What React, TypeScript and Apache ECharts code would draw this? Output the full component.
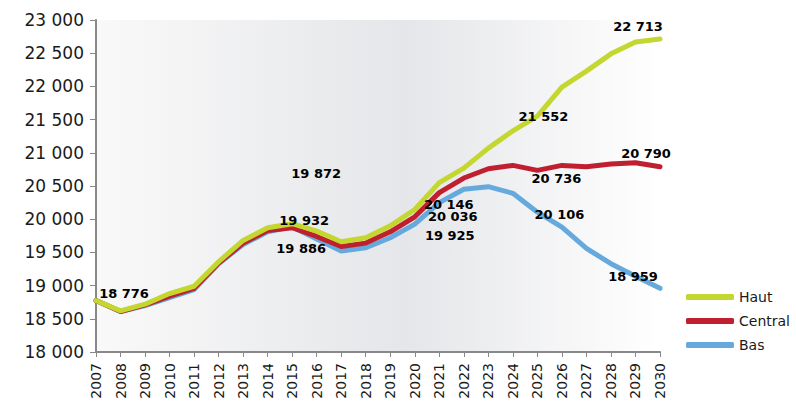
import React, { useEffect, useRef } from "react";
import * as echarts from "echarts";

const years = ["2007","2008","2009","2010","2011","2012","2013","2014","2015","2016","2017","2018","2019","2020","2021","2022","2023","2024","2025","2026","2027","2028","2029","2030"];
const haut = [18776,18620,18720,18880,18990,19360,19680,19870,19932,19820,19660,19720,19900,20146,20550,20770,21070,21330,21552,21990,22230,22490,22670,22713];
const central = [18776,18610,18710,18840,18960,19340,19640,19830,19872,19740,19590,19640,19810,20036,20400,20620,20760,20810,20736,20810,20790,20830,20850,20790];
const bas = [18776,18610,18700,18820,18940,19330,19620,19810,19886,19700,19520,19570,19720,19925,20250,20450,20490,20390,20106,19880,19560,19330,19140,18959];

// labels: year index, text offset x, text offset y
const labelsHaut: [number, number, number][] = [[0, 28, -7],[8, 12, -3],[13, 34, -5],[18, 6, 0],[23, -22, -13]];
const labelsCentral: [number, number, number][] = [[8, 24, -54],[13, 38, 0],[18, 19, 8],[23, -14, -13]];
const labelsBas: [number, number, number][] = [[8, 9, 22],[13, 35, 11],[18, 22, 2],[23, -27, -12]];

const fmt = (v: number) => {
  const s = Math.round(v).toString();
  return s.replace(/\B(?=(\d{3})+(?!\d))/g, " ");
};

function buildData(vals: number[], labels: [number, number, number][]) {
  return vals.map((v, i) => {
    const l = labels.find((x) => x[0] === i);
    if (!l) return v;
    return {
      value: v,
      label: {
        show: true,
        position: "inside",
        offset: [l[1], l[2]],
        formatter: fmt(v),
        color: "#000",
        fontWeight: "bold",
        fontSize: 13,
        fontFamily: "DejaVu Sans",
        align: "center",
        verticalAlign: "middle",
      },
    };
  });
}

export default function App() {
  const ref = useRef<HTMLDivElement>(null);
  useEffect(() => {
    if (!ref.current) return;
    const chart = echarts.init(ref.current, null, { renderer: "svg" });
    const font = "DejaVu Sans";
    const mkSeries = (name: string, vals: number[], color: string, labels: [number, number, number][], z: number) => ({
      name,
      type: "line",
      data: buildData(vals, labels),
      symbol: "circle",
      symbolSize: 1,
      showSymbol: true,
      itemStyle: { color },
      lineStyle: { color, width: 5, cap: "round", join: "round" },
      z,
      emphasis: { disabled: true },
    });
    chart.setOption({
      animation: false,
      grid: {
        left: 96,
        right: 136,
        top: 20,
        bottom: 50,
        outerBoundsMode: "none",
        containLabel: false,
        show: true,
        borderWidth: 0,
        backgroundColor: new echarts.graphic.LinearGradient(0, 0, 1, 0, [
          { offset: 0, color: "#f9f9f9" },
          { offset: 0.55, color: "#e5e6e9" },
          { offset: 1, color: "#ffffff" },
        ]),
      },
      legend: {
        orient: "vertical",
        left: 681,
        top: 285,
        itemWidth: 48,
        itemHeight: 6,
        itemGap: 10,
        icon: "roundRect",
        data: ["Haut", "Central", "Bas"],
        textStyle: { fontSize: 14, fontFamily: font, color: "#1a1a1a" },
      },
      xAxis: {
        type: "category",
        data: years,
        boundaryGap: false,
        axisLine: { lineStyle: { color: "#888", width: 2 } },
        axisTick: { show: true, length: 5, lineStyle: { color: "#888" } },
        axisLabel: { rotate: 90, fontSize: 14, fontFamily: font, color: "#1a1a1a", margin: 11, interval: 0 },
      },
      yAxis: {
        type: "value",
        min: 18000,
        max: 23000,
        interval: 500,
        splitLine: { show: false },
        axisLine: { show: true, lineStyle: { color: "#888", width: 2 } },
        axisTick: { show: true, length: 6, lineStyle: { color: "#888" } },
        axisLabel: { fontSize: 17, fontFamily: font, color: "#1a1a1a", margin: 12, formatter: (v: number) => fmt(v) },
      },
      series: [
        mkSeries("Bas", bas, "#66a9dc", labelsBas, 2),
        mkSeries("Central", central, "#c01f2f", labelsCentral, 3),
        mkSeries("Haut", haut, "#c4d730", labelsHaut, 4),
      ],
    });
    return () => chart.dispose();
  }, []);
  return <div ref={ref} style={{ width: 796, height: 402, position: "absolute", left: 0, top: 0 }} />;
}
